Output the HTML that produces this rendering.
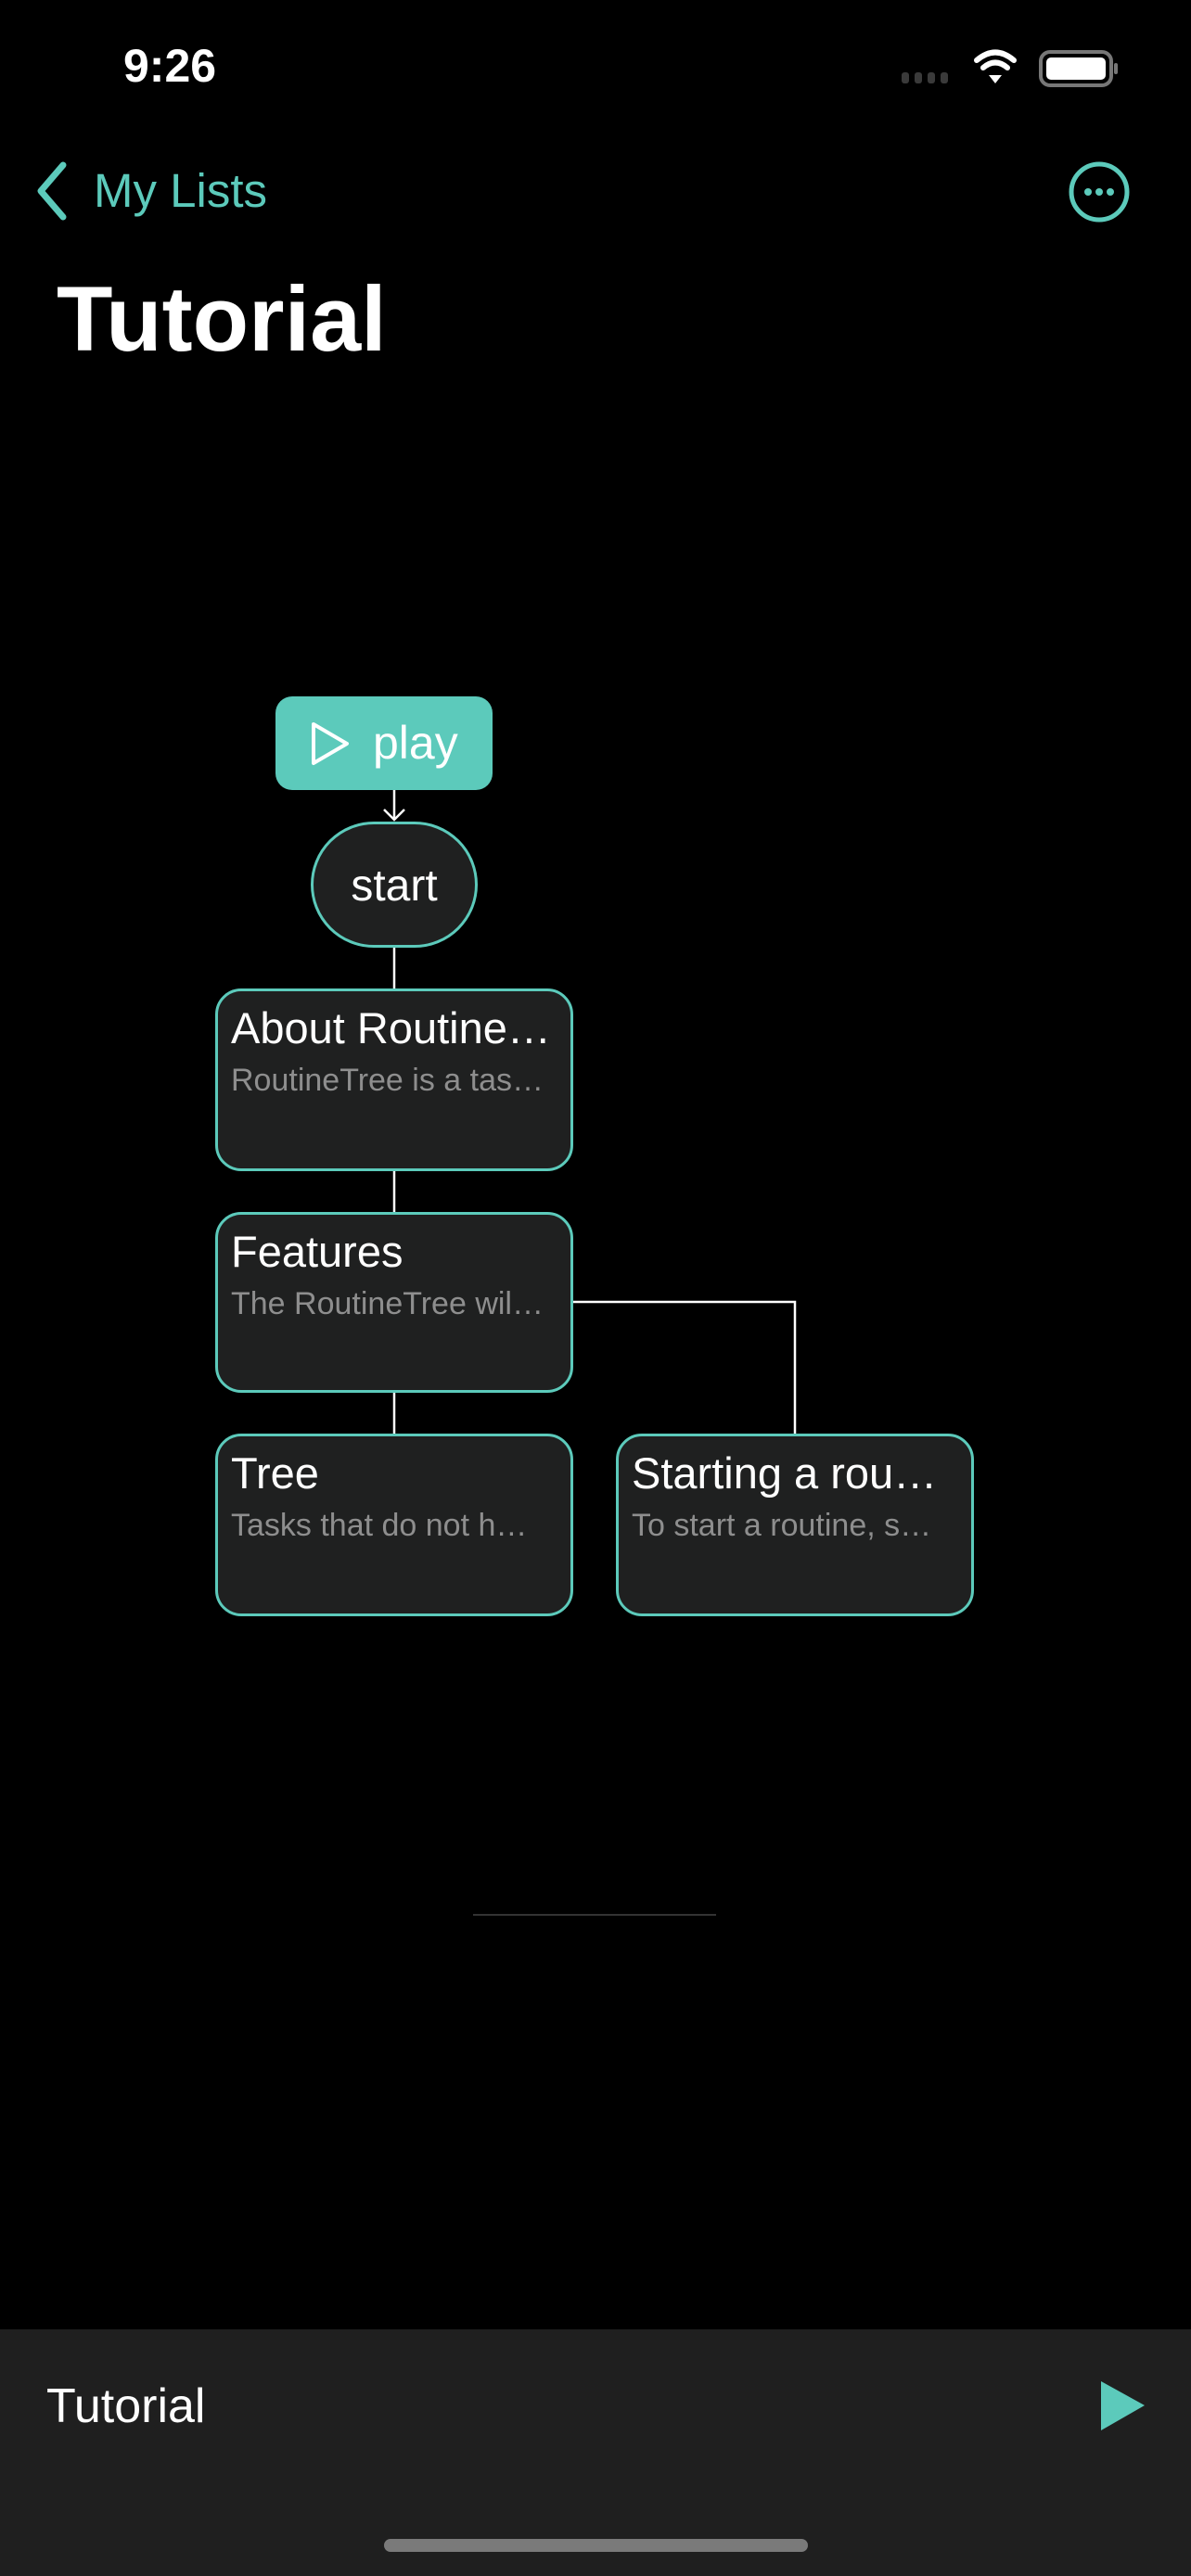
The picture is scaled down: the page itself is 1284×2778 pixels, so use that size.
<!DOCTYPE html>
<html><head><meta charset="utf-8"><style>
html,body{margin:0;padding:0;background:#000;}
body{width:1284px;height:2778px;position:relative;overflow:hidden;font-family:"Liberation Sans",sans-serif;color:#fff;}
.a{position:absolute;}
.node{position:absolute;box-sizing:border-box;background:#1f2020;border:3px solid #5ccabb;border-radius:28px;overflow:hidden;}
.t{position:absolute;left:14px;top:12px;font-size:47px;white-space:nowrap;color:#fff;}
.s{position:absolute;left:14px;top:77px;font-size:34px;white-space:nowrap;color:#8e8e8e;}
</style></head><body>
<div class="a" style="left:133px;top:42px;font-size:50px;font-weight:bold;">9:26</div>
<svg class="a" style="left:960px;top:50px" width="260" height="50">
<g fill="#3a3a3a"><rect x="12" y="28" width="8" height="12" rx="3"/><rect x="26" y="28" width="8" height="12" rx="3"/><rect x="40" y="28" width="8" height="12" rx="3"/><rect x="54" y="28" width="8" height="12" rx="3"/></g>
<g fill="none" stroke="#fff" stroke-width="6" stroke-linecap="round"><path d="M93 15 Q113 -2 133 15"/><path d="M100 23 Q113 12 126 23"/></g>
<path d="M106 31 L113 40 L120 31 Z" fill="#fff"/>
<rect x="162" y="6" width="76" height="36" rx="10" fill="none" stroke="#777" stroke-width="4"/>
<rect x="168" y="12" width="64" height="24" rx="5" fill="#fff"/>
<rect x="241" y="18" width="4" height="12" rx="2" fill="#777"/>
</svg>
<svg class="a" style="left:30px;top:170px" width="60" height="70"><path d="M38 8 L14 36 L38 64" fill="none" stroke="#5ccabb" stroke-width="7" stroke-linecap="round" stroke-linejoin="round"/></svg>
<div class="a" style="left:101px;top:176px;font-size:51px;color:#5ccabb;">My Lists</div>
<svg class="a" style="left:1145px;top:167px" width="80" height="80"><circle cx="40" cy="40" r="30" fill="none" stroke="#5ccabb" stroke-width="5"/><g fill="#5ccabb"><circle cx="28" cy="40" r="4"/><circle cx="40" cy="40" r="4"/><circle cx="52" cy="40" r="4"/></g></svg>
<div class="a" style="left:61px;top:287px;font-size:99px;font-weight:bold;">Tutorial</div>

<svg class="a" style="left:0;top:0" width="1284" height="2100">
<g stroke="#fff" stroke-width="2.5" fill="none">
<line x1="425" y1="852" x2="425" y2="884"/>
<path d="M414 873 L425 884 L436 873"/>
<line x1="425" y1="1022" x2="425" y2="1066"/>
<line x1="425" y1="1263" x2="425" y2="1307"/>
<line x1="425" y1="1502" x2="425" y2="1546"/>
<path d="M618 1404 L857 1404 L857 1546"/>
</g>
<line x1="510" y1="2065" x2="772" y2="2065" stroke="#333" stroke-width="2"/>
</svg>

<div class="a" style="left:297px;top:751px;width:234px;height:101px;background:#5ccabb;border-radius:18px;"></div>
<svg class="a" style="left:332px;top:776px" width="50" height="52"><path d="M6 5 L42 26 L6 47 Z" fill="none" stroke="#fff" stroke-width="4" stroke-linejoin="round"/></svg>
<div class="a" style="left:402px;top:772px;font-size:50px;color:#fff;">play</div>

<div class="a" style="left:335px;top:886px;width:180px;height:136px;box-sizing:border-box;background:#1f2020;border:3px solid #5ccabb;border-radius:68px/68px;"></div>
<div class="a" style="left:335px;top:928px;width:180px;text-align:center;font-size:48px;">start</div>

<div class="node" style="left:232px;top:1066px;width:386px;height:197px;"><div class="t">About Routine…</div><div class="s">RoutineTree is a tas…</div></div>
<div class="node" style="left:232px;top:1307px;width:386px;height:195px;"><div class="t">Features</div><div class="s">The RoutineTree wil…</div></div>
<div class="node" style="left:232px;top:1546px;width:386px;height:197px;"><div class="t">Tree</div><div class="s">Tasks that do not h…</div></div>
<div class="node" style="left:664px;top:1546px;width:386px;height:197px;"><div class="t">Starting a rou…</div><div class="s">To start a routine, s…</div></div>

<div class="a" style="left:0;top:2512px;width:1284px;height:266px;background:#1f1f1f;"></div>
<div class="a" style="left:50px;top:2565px;font-size:52px;">Tutorial</div>
<svg class="a" style="left:1184px;top:2565px" width="54" height="60"><path d="M3 3 L50 29 L3 56 Z" fill="#5ccabb"/></svg>
<div class="a" style="left:414px;top:2738px;width:457px;height:14px;border-radius:7px;background:#7a7a7a;"></div>
</body></html>
